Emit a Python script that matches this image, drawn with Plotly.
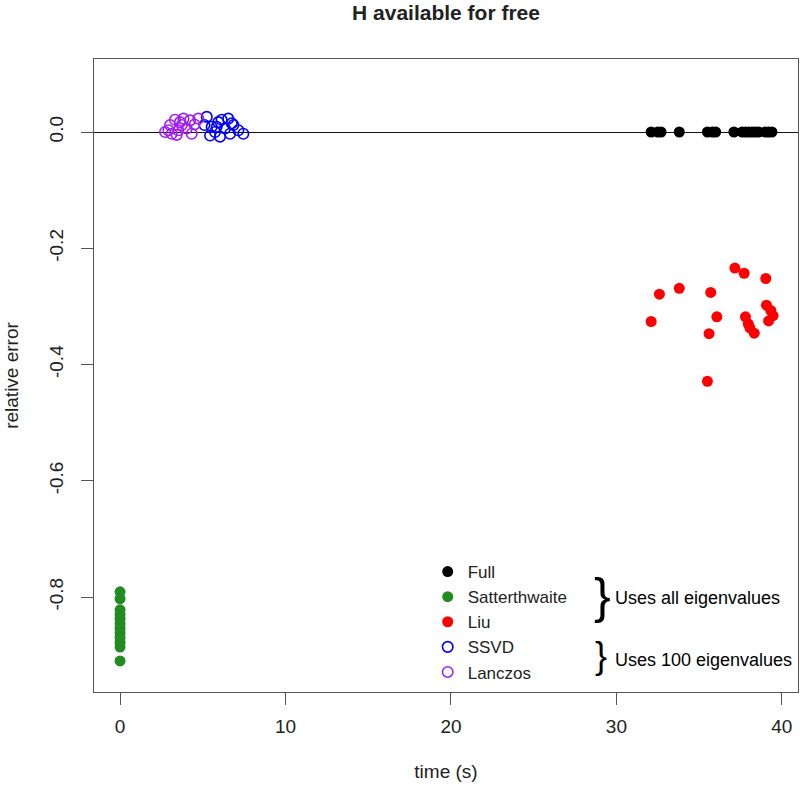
import plotly.graph_objects as go

FONT = "Liberation Sans, Arial, sans-serif"

# time (s) and relative error for each method
full_time = [32.1, 32.5, 32.7, 33.8, 35.5, 35.8, 36.0, 37.1, 37.6, 37.8, 38.0,
             38.2, 38.4, 38.6, 39.0, 39.2, 39.4]
full_err = [0.0] * len(full_time)

satt_time = [0.0] * 12
satt_err = [-0.791, -0.803, -0.822, -0.830, -0.838, -0.846, -0.854, -0.862,
            -0.870, -0.878, -0.886, -0.910]

liu_time = [37.16, 37.72, 39.03, 32.6, 33.8, 35.7, 32.1, 36.07, 35.6, 35.5,
            39.07, 39.33, 39.47, 39.2, 37.8, 37.97, 38.07, 38.33]
liu_err = [-0.234, -0.243, -0.252, -0.279, -0.269, -0.276, -0.326, -0.318,
           -0.347, -0.429, -0.298, -0.307, -0.316, -0.325, -0.318, -0.330,
           -0.337, -0.346]

ssvd_time = [5.24, 5.54, 5.74, 5.94, 6.04, 6.34, 6.54, 6.65, 6.85, 7.15,
             7.45, 5.44, 6.14, 5.84, 6.75, 5.1]
ssvd_err = [0.026, 0.009, 0.0, 0.017, -0.008, 0.006, 0.023, -0.003, 0.012,
            0.003, -0.003, -0.006, 0.021, 0.009, 0.015, 0.012]

lanc_time = [2.72, 3.02, 3.32, 3.52, 3.73, 3.83, 4.03, 4.23, 4.33, 4.73,
             3.12, 3.42, 2.92, 3.62, 4.5]
lanc_err = [0.0, 0.012, 0.021, 0.003, 0.012, 0.023, 0.006, 0.02, -0.003,
            0.023, -0.003, -0.005, 0.003, 0.017, 0.013]

x_ticks = [0, 10, 20, 30, 40]
y_ticks = [0.0, -0.2, -0.4, -0.6, -0.8]
y_tick_text = ["0.0", "-0.2", "-0.4", "-0.6", "-0.8"]

fig = go.Figure()

filled = dict(size=11, symbol="circle")
hollow = dict(size=10.5, symbol="circle-open", line=dict(width=1.6))

fig.add_trace(go.Scatter(x=full_time, y=full_err, mode="markers", name="Full",
                         marker=dict(color="black", **filled)))
fig.add_trace(go.Scatter(x=satt_time, y=satt_err, mode="markers", name="Satterthwaite",
                         marker=dict(color="#228B22", **filled)))
fig.add_trace(go.Scatter(x=liu_time, y=liu_err, mode="markers", name="Liu",
                         marker=dict(color="#FF0000", **filled)))
fig.add_trace(go.Scatter(x=ssvd_time, y=ssvd_err, mode="markers", name="SSVD",
                         marker=dict(color="#0000FF", **hollow)))
fig.add_trace(go.Scatter(x=lanc_time, y=lanc_err, mode="markers", name="Lanczos",
                         marker=dict(color="#A020F0", **hollow)))

# braces next to the legend
fig.add_annotation(text="}", x=0.722, y=0.152, xref="paper", yref="paper",
                   showarrow=False, font=dict(size=50, color="black", family=FONT),
                   xanchor="center", yanchor="middle")
fig.add_annotation(text="Uses all eigenvalues", x=0.737, y=0.148, xref="paper",
                   yref="paper", showarrow=False, xanchor="left", yanchor="middle",
                   font=dict(size=18, color="black", family=FONT))
fig.add_annotation(text="}", x=0.72, y=0.058, xref="paper", yref="paper",
                   showarrow=False, font=dict(size=36, color="black", family=FONT),
                   xanchor="center", yanchor="middle")
fig.add_annotation(text="Uses 100 eigenvalues", x=0.737, y=0.05, xref="paper",
                   yref="paper", showarrow=False, xanchor="left", yanchor="middle",
                   font=dict(size=18, color="black", family=FONT))

axis_common = dict(
    showgrid=False, showline=True, linecolor="#555", linewidth=1.2, mirror=True,
    ticks="outside", ticklen=12, tickcolor="#555", tickwidth=1.2, automargin=False,
    tickfont=dict(size=19, color="#222", family=FONT),
)

fig.update_layout(
    width=800, height=790,
    margin=dict(l=94, r=2, t=59, b=98, autoexpand=False),
    paper_bgcolor="white", plot_bgcolor="white",
    font=dict(family=FONT, color="#222"),
    title=dict(text="<b>H available for free</b>", x=0.5, xref="paper",
               y=1 - 13 / 790, yref="container", yanchor="middle", automargin=False,
               font=dict(size=21, color="#222", family=FONT)),
    xaxis=dict(range=[-1.576, 40.976], tickvals=x_ticks, zeroline=False,
               title=dict(text="time (s)", font=dict(size=19), standoff=28),
               ticklabelstandoff=5, **axis_common),
    yaxis=dict(range=[-0.9634, 0.1256], tickvals=y_ticks, ticktext=y_tick_text,
               tickangle=-90, zeroline=True, zerolinecolor="#111", zerolinewidth=1,
               title=dict(text="relative error", font=dict(size=19), standoff=22),
               ticklabelstandoff=10, **axis_common),
    showlegend=True,
    legend=dict(x=0.474, y=0.218, xanchor="left", yanchor="top", bgcolor="rgba(0,0,0,0)",
                borderwidth=0, font=dict(size=17, color="#222", family=FONT),
                itemsizing="trace"),
)

fig.write_html("out.html", config={"displayModeBar": False},
               post_script="document.body.style.margin='0px';document.body.style.overflow='hidden';")
